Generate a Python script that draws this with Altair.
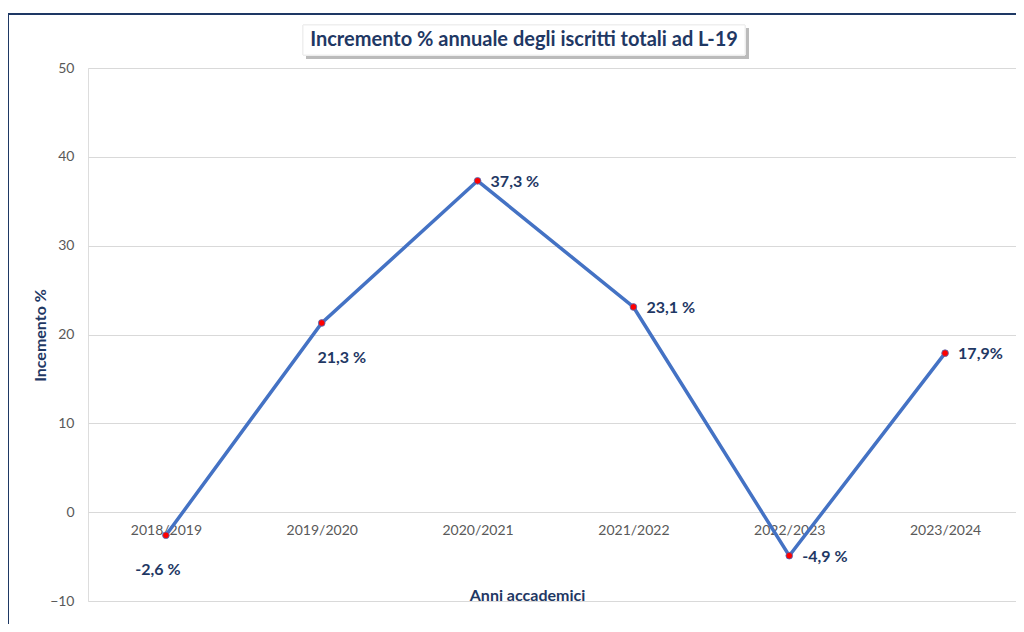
import altair as alt
import pandas as pd

years = ["2018/2019", "2019/2020", "2020/2021", "2021/2022", "2022/2023", "2023/2024"]
values = [-2.6, 21.3, 37.3, 23.1, -4.9, 17.9]
labels = ["-2,6 %", "21,3 %", "37,3 %", "23,1 %", "-4,9 %", "17,9%"]
y_ticks = [-10, 0, 10, 20, 30, 40, 50]
title_text = "Incremento % annuale degli iscritti totali ad L-19"

df = pd.DataFrame({"anno": years, "val": values, "lab": labels})

NAVY = "#1F3864"
FONT = "Lato"

xscale = alt.Scale(domain=years, range=[0, 935], paddingInner=0, paddingOuter=0.5)
xenc = alt.X("anno:N", sort=years, scale=xscale,
             axis=alt.Axis(offset=-89, domain=False, ticks=False, labelAngle=0,
                           labelPadding=11, labelFontSize=14, labelColor="#595959",
                           labelFont=FONT, title="Anni accademici", titleFont=FONT,
                           titleFontSize=16, titleColor=NAVY, titleFontWeight="bold",
                           titleX=439, titleY=83, titleBaseline="middle", titleAlign="center",
                           grid=False))
yenc = alt.Y("val:Q", scale=alt.Scale(domain=[-10, 50], nice=False),
             axis=alt.Axis(values=y_ticks, domain=False, ticks=False, labelPadding=14,
                           labelFontSize=14, labelColor="#595959", labelFont=FONT,
                           gridColor="#D9D9D9", gridWidth=1,
                           title="Incemento %", titleFont=FONT, titleFontSize=16,
                           titleColor=NAVY, titleFontWeight="bold", titleX=-48, titleY=267,
                           titleAngle=-90, titleBaseline="middle", titleAlign="center"))

base = alt.Chart(df)

frame = base.mark_rect(fill=None, stroke=NAVY, strokeWidth=1.5, clip=False).encode(
    x=alt.value(-80), x2=alt.value(1100), y=alt.value(-54), y2=alt.value(700))
shadow = base.mark_rect(fill="#BBBBBB", opacity=0.6, clip=False).encode(
    x=alt.value(218), x2=alt.value(661), y=alt.value(-40), y2=alt.value(-9))
box = base.mark_rect(fill="white", stroke="#EEEEEE", clip=False).encode(
    x=alt.value(215), x2=alt.value(657), y=alt.value(-43), y2=alt.value(-13))
title = alt.Chart(pd.DataFrame({"t": [title_text]})).mark_text(
    font=FONT, fontSize=20, fontWeight="bold", color=NAVY, align="center",
    baseline="middle", clip=False).encode(
    x=alt.value(436), y=alt.value(-28), text="t:N")

xs = alt.X("anno:N", sort=years, scale=xscale)
line = base.mark_line(color="#4472C4", strokeWidth=3.5).encode(x=xenc, y=yenc)
pts = base.mark_point(filled=True, color="#FF0000", size=45, opacity=1,
                      stroke="#4472C4", strokeWidth=0.8).encode(x=xs, y="val:Q")

font_kw = dict(font=FONT, fontSize=16, fontWeight="bold", color=NAVY)
lab_below = base.transform_filter(alt.datum.anno == "2018/2019").mark_text(
    align="center", baseline="middle", dy=35, dx=-8, **font_kw).encode(
    x=xs, y="val:Q", text="lab:N")
lab_below2 = base.transform_filter(alt.datum.anno == "2019/2020").mark_text(
    align="center", baseline="middle", dy=35, dx=20, **font_kw).encode(
    x=xs, y="val:Q", text="lab:N")
lab_right = base.transform_filter(
    (alt.datum.anno != "2018/2019") & (alt.datum.anno != "2019/2020")).mark_text(
    align="left", baseline="middle", dx=13, dy=1, **font_kw).encode(
    x=xs, y="val:Q", text="lab:N")

chart = alt.layer(frame, line, pts, lab_below, lab_below2, lab_right,
                  shadow, box, title).properties(
    width=928, height=533,
    autosize=alt.AutoSizeParams(type="none"),
    padding={"left": 80, "top": 60, "right": 0, "bottom": 23},
).configure_view(stroke=None).configure(background="white")

chart.save("out.html", embed_options={"renderer": "svg", "actions": False})
